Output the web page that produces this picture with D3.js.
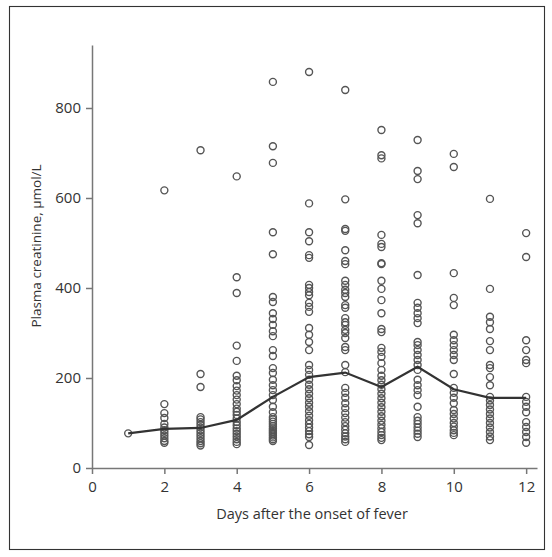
<!DOCTYPE html>
<html>
<head>
<meta charset="utf-8">
<script src="https://cdn.jsdelivr.net/npm/d3@7"></script>
<style>
  body { margin: 0; background: #fff; }
  svg { display: block; font-family: "Open Sans", sans-serif; }
</style>
</head>
<body>
<svg width="552" height="557"></svg>
<script>
//data
const days = [1, 2, 3, 4, 5, 6, 7, 8, 9, 10, 11, 12];
const day1 = [77];
const day2 = [617, 142, 122, 111, 98, 90, 84, 78, 72, 66, 60, 56];
const day3 = [706, 209, 180, 113, 108, 102, 96, 90, 84, 78, 72, 66, 60, 55, 50];
const day4 = [648, 424, 389, 272, 238, 205, 195, 182, 172, 162, 152, 142, 132, 125, 118, 110, 102, 95, 88, 82, 76, 70, 64, 58, 53];
const day5 = [858, 715, 678, 524, 475, 380, 369, 344, 331, 318, 304, 293, 262, 249, 222, 211, 196, 184, 173, 162, 151, 136, 124, 113, 108, 103, 98, 93, 88, 84, 80, 76, 72, 68, 64, 60];
const day6 = [880, 588, 524, 504, 473, 467, 407, 400, 391, 384, 367, 358, 347, 311, 296, 280, 262, 229, 218, 207, 196, 185, 175, 165, 155, 145, 136, 126, 116, 106, 98, 90, 82, 75, 69, 51];
const day7 = [840, 597, 531, 527, 484, 460, 453, 416, 407, 396, 389, 380, 362, 356, 333, 324, 318, 307, 300, 289, 269, 262, 229, 213, 178, 167, 156, 144, 133, 122, 112, 102, 93, 85, 77, 70, 64, 58];
const day8 = [751, 695, 688, 518, 498, 491, 455, 453, 416, 398, 373, 344, 309, 302, 267, 258, 247, 233, 218, 205, 195, 185, 175, 165, 155, 145, 135, 125, 115, 105, 96, 88, 80, 73, 67, 62];
const day9 = [729, 660, 642, 562, 544, 429, 367, 356, 344, 333, 322, 280, 273, 262, 251, 240, 229, 218, 196, 184, 173, 162, 136, 113, 105, 98, 90, 83, 76, 69];
const day10 = [698, 669, 433, 378, 362, 296, 284, 273, 262, 251, 240, 209, 178, 167, 156, 144, 129, 120, 110, 100, 92, 84, 78, 73];
const day11 = [598, 398, 336, 324, 309, 282, 262, 229, 222, 202, 184, 158, 150, 140, 130, 120, 110, 100, 90, 80, 70, 62];
const day12 = [522, 469, 284, 262, 240, 233, 158, 147, 136, 124, 102, 91, 80, 69, 56];
const median = [77, 87, 89, 107, 158, 202, 212, 180, 225, 175, 156, 156];
const xTicks = [0, 2, 4, 6, 8, 10, 12];
const yTicks = [0, 200, 400, 600, 800];

const columns = [day1, day2, day3, day4, day5, day6, day7, day8, day9, day10, day11, day12];
const points = columns.flatMap((vals, i) => vals.map(v => ({ day: days[i], value: v })));

//set up
const svg = d3.select('svg');

svg.append('rect')
  .attr('x', 9.5).attr('y', 6.5)
  .attr('width', 535).attr('height', 543)
  .attr('fill', 'none')
  .attr('stroke', '#333')
  .attr('stroke-width', 1.1);

const x = d3.scaleLinear().domain([0, 12.3]).range([92, 537]);
const y = d3.scaleLinear().domain([0, 940]).range([468, 45]);

//axes
const gx = svg.append('g')
  .attr('transform', 'translate(0,468)')
  .call(d3.axisBottom(x).tickValues(xTicks).tickSize(6).tickSizeOuter(0).tickPadding(7));

const gy = svg.append('g')
  .attr('transform', 'translate(92,0)')
  .call(d3.axisLeft(y).tickValues(yTicks).tickSize(6).tickSizeOuter(0).tickPadding(5));

[gx, gy].forEach(g => {
  g.selectAll('.domain, line').attr('stroke', '#777').attr('stroke-width', 1.5);
  g.selectAll('text').attr('fill', '#333').style('font-size', '15px').style('font-family', '"Open Sans", sans-serif');
});

svg.append('text')
  .attr('x', 312).attr('y', 519)
  .attr('text-anchor', 'middle')
  .attr('fill', '#333')
  .style('font-size', '14.5px')
  .text('Days after the onset of fever');

svg.append('text')
  .attr('transform', 'translate(41,246) rotate(-90)')
  .attr('text-anchor', 'middle')
  .attr('fill', '#333')
  .style('font-size', '13.5px')
  .text('Plasma creatinine, μmol/L');

//points
svg.append('g')
  .selectAll('circle')
  .data(points)
  .join('circle')
  .attr('cx', d => x(d.day))
  .attr('cy', d => y(d.value))
  .attr('r', 3.5)
  .attr('fill', 'none')
  .attr('stroke', '#555')
  .attr('stroke-width', 1.4);

//median line
const line = d3.line()
  .x((d, i) => x(days[i]))
  .y(d => y(d));

svg.append('path')
  .datum(median)
  .attr('d', line)
  .attr('fill', 'none')
  .attr('stroke', '#333')
  .attr('stroke-width', 2.2);
</script>
</body>
</html>
